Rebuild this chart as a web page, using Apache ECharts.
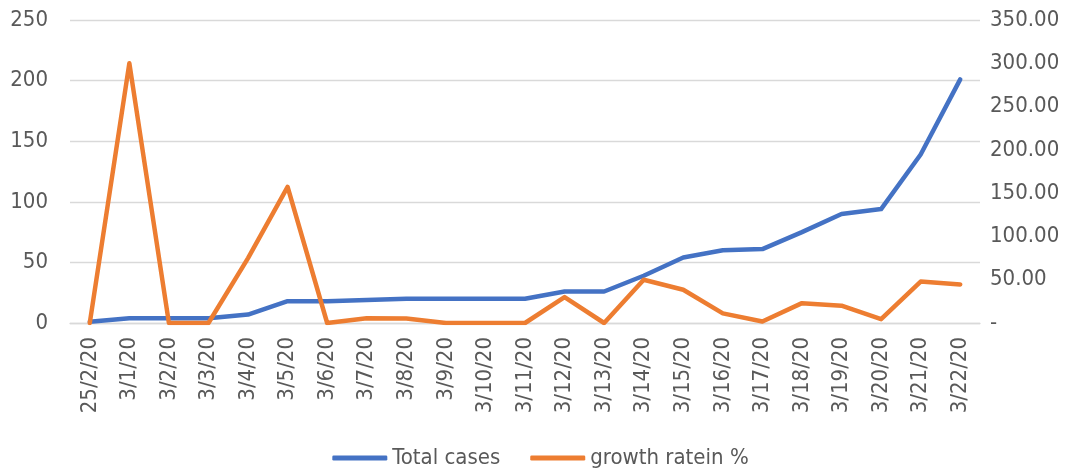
<!DOCTYPE html>
<html>
<head>
<meta charset="utf-8">
<script src="https://cdn.jsdelivr.net/npm/echarts@6/dist/echarts.min.js"></script>
<style>
html,body{margin:0;padding:0;background:#fff;}
#c{width:1081px;height:470px;}
</style>
</head>
<body>
<div id="c"></div>
<script>
var categories = ['25/2/20','3/1/20','3/2/20','3/3/20','3/4/20','3/5/20','3/6/20','3/7/20','3/8/20','3/9/20','3/10/20','3/11/20','3/12/20','3/13/20','3/14/20','3/15/20','3/16/20','3/17/20','3/18/20','3/19/20','3/20/20','3/21/20','3/22/20'];
var totalCases = [1,4,4,4,7,18,18,19,20,20,20,20,26,26,39,54,60,61,75,90,94,139,201];
var growthRate = [0,300,0,0,75,157.14,0,5.56,5.26,0,0,0,30,0,50,38.46,11.11,1.67,22.95,20,4.44,47.87,44.6];
var leftTicks = {min:0,max:250,interval:50};
var rightTicks = {min:0,max:350,interval:50};

var FONT = "'DejaVu Sans Condensed','DejaVu Sans',sans-serif";
var TXT = '#595959';
var FS = 22;
var chart = echarts.init(document.getElementById('c'));
chart.setOption({
  animation:false,
  backgroundColor:'#fff',
  grid:{left:70,right:101,top:20,bottom:147,containLabel:false},
  legend:{
    top:447,left:'center',padding:0,
    itemWidth:55,itemHeight:5,itemGap:30,
    icon:'roundRect',
    textStyle:{fontFamily:FONT,fontSize:FS,color:TXT,padding:[0,0,0,0]},
    data:['Total cases','growth ratein %']
  },
  xAxis:{
    type:'category',data:categories,boundaryGap:true,
    axisLine:{show:true,lineStyle:{color:'#D9D9D9',width:1.3}},
    axisTick:{show:false},
    axisLabel:{rotate:90,interval:0,margin:14,fontFamily:FONT,fontSize:FS,color:TXT}
  },
  yAxis:[{
    type:'value',min:leftTicks.min,max:leftTicks.max,interval:leftTicks.interval,
    axisLine:{show:false},axisTick:{show:false},
    splitLine:{lineStyle:{color:'#D9D9D9',width:1.3}},
    axisLabel:{margin:22,fontFamily:FONT,fontSize:FS,color:TXT}
  },{
    type:'value',min:rightTicks.min,max:rightTicks.max,interval:rightTicks.interval,
    position:'right',
    axisLine:{show:false},axisTick:{show:false},splitLine:{show:false},
    axisLabel:{margin:10,fontFamily:FONT,fontSize:FS,color:TXT,
      formatter:function(v){return v===0?'-':v.toFixed(2);}}
  }],
  series:[{
    name:'Total cases',type:'line',yAxisIndex:0,data:totalCases,
    symbol:'none',color:'#4472C4',
    lineStyle:{width:4.5,color:'#4472C4',cap:'round',join:'round'}
  },{
    name:'growth ratein %',type:'line',yAxisIndex:1,data:growthRate,
    symbol:'none',color:'#ED7D31',
    lineStyle:{width:4.5,color:'#ED7D31',cap:'round',join:'round'}
  }]
});
</script>
</body>
</html>
